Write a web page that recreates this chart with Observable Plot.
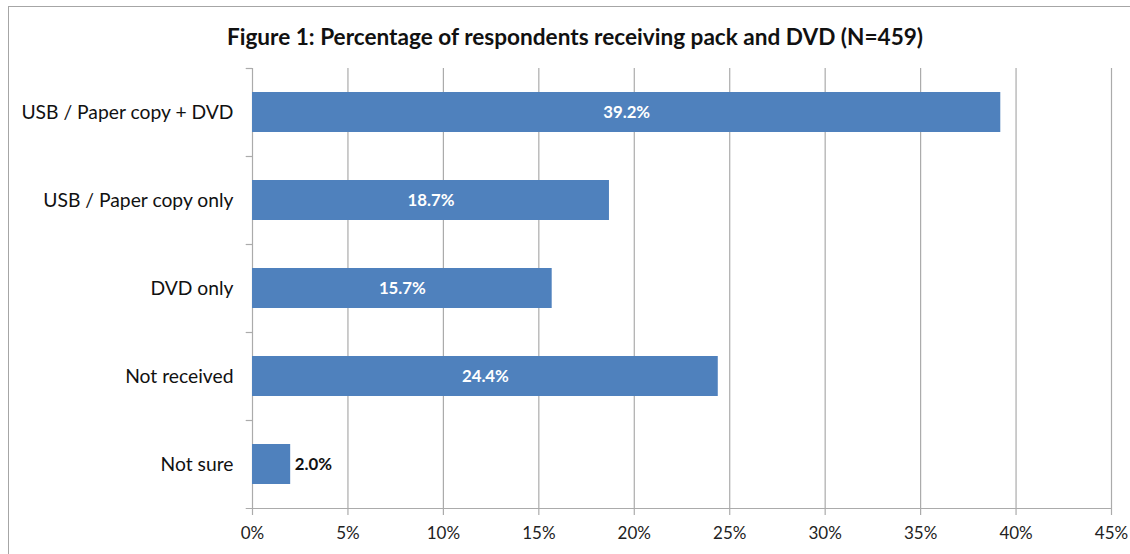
<!DOCTYPE html>
<html><head><meta charset="utf-8">
<script src="https://cdn.jsdelivr.net/npm/d3@7"></script>
<script src="https://cdn.jsdelivr.net/npm/@observablehq/plot@0.6"></script>
<style>
body{margin:0;background:#fff;}
#wrap{position:relative;width:1130px;height:554px;overflow:hidden;background:#fff;font-family:Lato,"Open Sans",sans-serif;}
#frame{position:absolute;left:8px;top:6px;width:1140px;height:600px;border:1.5px solid #a6a6a6;box-sizing:border-box;}
#title{position:absolute;left:0;top:23px;width:1150px;text-align:center;font-weight:bold;font-size:22.6px;color:#111;}
#chart{position:absolute;left:0;top:0;}
</style></head>
<body><div id="wrap"><div id="frame"></div><div id="chart"></div><div id="title">Figure 1: Percentage of respondents receiving pack and DVD (N=459)</div></div>
<script>
const categories = ["USB / Paper copy + DVD","USB / Paper copy only","DVD only","Not received","Not sure"];
const values = [39.2, 18.7, 15.7, 24.4, 2.0];
const xTicks = [0,5,10,15,20,25,30,35,40,45];
const data = categories.map((c,i)=>({cat:c, v:values[i], label:values[i].toFixed(1)+"%"}));
const gridCol = "#ababab";
const plot = Plot.plot({
  width:1130, height:554,
  marginTop:68, marginBottom:45, marginLeft:252, marginRight:19,
  style:{fontFamily:"Lato, 'Open Sans', sans-serif", background:"transparent"},
  x:{domain:[0,45], ticks:xTicks, tickFormat:d=>d+"%", label:null},
  y:{domain:categories, paddingInner:48/88, paddingOuter:24/88, label:null},
  marks:[
    Plot.ruleX(xTicks.filter(d=>d>0), {x:d=>d, stroke:gridCol, strokeWidth:1.2}),
    Plot.axisX({ticks:xTicks, tickFormat:d=>d+"%", tickSize:6, stroke:gridCol, strokeWidth:1.2, fontSize:17, color:"#222", tickPadding:11, label:null}),
    Plot.axisY({tickSize:0, tickPadding:19, fontSize:19.3, color:"#111", label:null}),
    Plot.ruleY(categories, {y:d=>d, dy:-44, x1:-0.33, x2:0, stroke:gridCol, strokeWidth:1.2}),
    Plot.ruleY([categories[categories.length-1]], {y:d=>d, dy:44, x1:-0.33, x2:45, stroke:gridCol, strokeWidth:1.2}),
    Plot.ruleX([0], {stroke:gridCol, strokeWidth:1.2}),
    Plot.barX(data, {y:"cat", x:"v", fill:"#4f81bd"}),
    Plot.text(data.filter(d=>d.v>=5), {y:"cat", x:d=>d.v/2, text:"label", fill:"white", fontWeight:"bold", fontSize:16.8}),
    Plot.text(data.filter(d=>d.v<5), {y:"cat", x:"v", text:"label", fill:"#111", fontWeight:"bold", fontSize:16.8, textAnchor:"start", dx:4})
  ]
});
document.getElementById("chart").appendChild(plot);
</script></body></html>
